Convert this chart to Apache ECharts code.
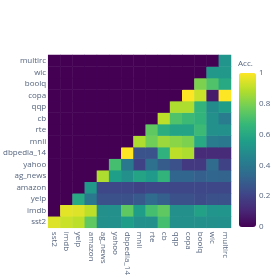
<!DOCTYPE html>
<html>
<head>
<meta charset="utf-8">
<script src="https://cdn.jsdelivr.net/npm/echarts@6/dist/echarts.min.js"></script>
<style>
html,body{margin:0;padding:0;background:#fff;}
#c{width:278px;height:278px;}
</style>
</head>
<body>
<div id="c"></div>
<script>
// Task order (x axis left→right, y axis bottom→top)
const tasks = ['sst2','imdb','yelp','amazon','ag_news','yahoo','dbpedia_14','mnli','rte','cb','qqp','copa','boolq','wic','multirc'];

// Accuracy per row (row task), one value per column task
const accSst2    = [0.95,0.92,0.90,0.75,0.50,0.50,0.55,0.50,0.50,0.70,0.50,0.50,0.50,0.50,0.50];
const accImdb    = [0,0.96,0.95,0.90,0.50,0.50,0.75,0.55,0.70,0.75,0.50,0.50,0.57,0.52,0.52];
const accYelp    = [0,0,0.60,0.40,0.25,0.25,0.25,0.28,0.35,0.30,0.25,0.25,0.23,0.25,0.25];
const accAmazon  = [0,0,0,0.53,0.22,0.22,0.22,0.20,0.22,0.22,0.22,0.22,0.22,0.22,0.22];
const accAgNews  = [0,0,0,0,0.88,0.56,0.50,0.58,0.54,0.65,0.33,0.33,0.30,0.33,0.32];
const accYahoo   = [0,0,0,0,0,0.70,0.40,0.20,0.37,0.29,0.25,0.17,0.17,0.35,0.20];
const accDbpedia = [0,0,0,0,0,0,1.00,0.26,0.26,0.64,0.90,0.88,0.12,0.12,0.12];
const accMnli    = [0,0,0,0,0,0,0,0.88,0.78,0.85,0.82,0.80,0.60,0.42,0.40];
const accRte     = [0,0,0,0,0,0,0,0,0.75,0.62,0.58,0.58,0.68,0.50,0.50];
const accCb      = [0,0,0,0,0,0,0,0,0,0.90,0.72,0.68,0.65,0.50,0.42];
const accQqp     = [0,0,0,0,0,0,0,0,0,0,0.88,0.88,0.65,0.48,0.55];
const accCopa    = [0,0,0,0,0,0,0,0,0,0,0,1.00,0.92,0.07,1.00];
const accBoolq   = [0,0,0,0,0,0,0,0,0,0,0,0,0.80,0.72,0.60];
const accWic     = [0,0,0,0,0,0,0,0,0,0,0,0,0,0.53,0.53];
const accMultirc = [0,0,0,0,0,0,0,0,0,0,0,0,0,0,0.52];

const rows = [accSst2,accImdb,accYelp,accAmazon,accAgNews,accYahoo,accDbpedia,accMnli,accRte,accCb,accQqp,accCopa,accBoolq,accWic,accMultirc];

const colorbarTicks = [0,0.2,0.4,0.6,0.8,1];

const data = [];
rows.forEach((row, r) => row.forEach((v, c) => data.push([c, r, v])));

const viridis = ['#440154','#482878','#3e4989','#31688e','#26828e','#1f9e89','#35b779','#6ece58','#b5de2b','#fde725'];
const txt = '#56657f';
const font = 'Open Sans, Noto Sans, sans-serif';

const chart = echarts.init(document.getElementById('c'), null, {renderer:'canvas'});
chart.setOption({
  backgroundColor:'#fff',
  animation:false,
  title:{text:'Acc.', left:238, top:60, padding:0, textStyle:{fontSize:8, fontWeight:'normal', color:txt, fontFamily:font}},
  grid:[
    {left:44, right:47, top:55, bottom:45.5},
    {left:239, top:73, width:17, height:154}
  ],
  xAxis:[
    {type:'category', data:tasks, gridIndex:0, axisLine:{show:false}, axisTick:{show:false}, splitLine:{show:false},
     axisLabel:{rotate:-90, fontSize:8, color:txt, fontFamily:font, margin:4, interval:0}},
    {type:'category', data:[''], gridIndex:1, show:false}
  ],
  yAxis:[
    {type:'category', data:tasks, gridIndex:0, axisLine:{show:false}, axisTick:{show:false}, splitLine:{show:false},
     axisLabel:{fontSize:8, color:txt, fontFamily:font, margin:2, interval:0}},
    {type:'value', gridIndex:1, min:0, max:1, interval:0.2, position:'right',
     axisLine:{show:false}, axisTick:{show:false}, splitLine:{show:false},
     axisLabel:{fontSize:8, color:txt, fontFamily:font, margin:3,
       customValues: colorbarTicks,
       formatter: v => String(Math.round(v*10)/10)}}
  ],
  visualMap:{
    type:'continuous', min:0, max:1, seriesIndex:0, calculable:false,
    orient:'vertical', left:239, top:73, itemWidth:17, itemHeight:154, padding:0,
    text:null, showLabel:false,
    inRange:{color:viridis}
  },
  series:[
    {type:'heatmap', xAxisIndex:0, yAxisIndex:0, data:data, itemStyle:{borderWidth:0}, emphasis:{disabled:true}},
    {type:'scatter', xAxisIndex:1, yAxisIndex:1, data:[], silent:true}
  ]
});
</script>
</body>
</html>
